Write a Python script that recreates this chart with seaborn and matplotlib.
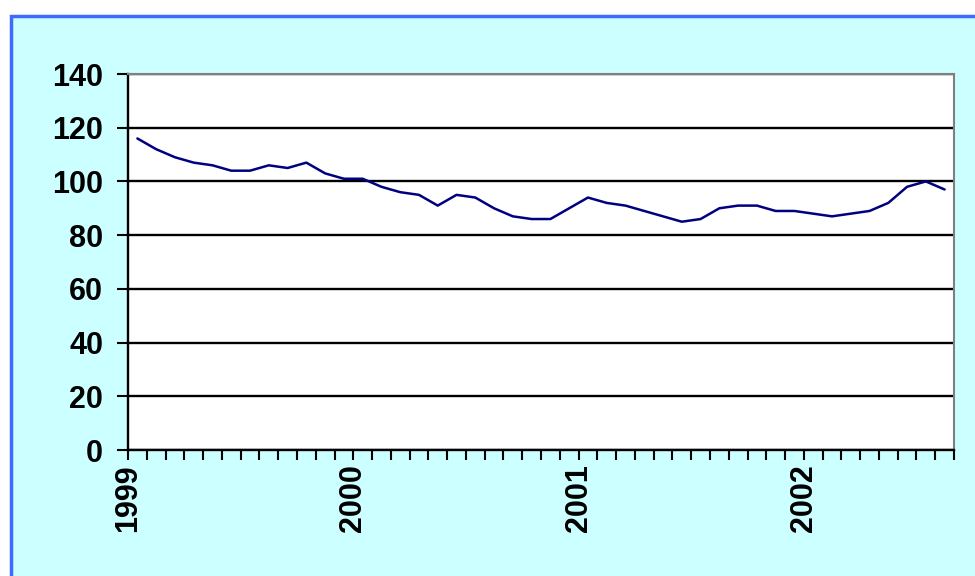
import numpy as np
import pandas as pd
import seaborn as sns
import matplotlib.pyplot as plt
from matplotlib.patches import Rectangle

sns.set_theme(style='white')
plt.rcParams['font.family'] = ['Liberation Sans', 'DejaVu Sans']
plt.rcParams['text.color'] = 'black'
plt.rcParams['xtick.color'] = 'black'
plt.rcParams['ytick.color'] = 'black'

# Monthly index values, Jan 1999 - Aug 2002
values = [116, 112, 109, 107, 106, 104, 104, 106, 105, 107, 103, 101,
          101, 98, 96, 95, 91, 95, 94, 90, 87, 86, 86, 90,
          94, 92, 91, 89, 87, 85, 86, 90, 91, 91, 89, 89,
          88, 87, 88, 89, 92, 98, 100, 97]
months = pd.date_range('1999-01-01', periods=len(values), freq='MS')
year_labels = ['1999', '2000', '2001', '2002']
y_ticks = [0, 20, 40, 60, 80, 100, 120, 140]

df = pd.DataFrame({'month': months, 'value': values})
# category axis: each month occupies one slot, points in the middle
df['pos'] = np.arange(len(df)) + 0.5

fig = plt.figure(figsize=(9.75, 5.76), dpi=100)
fig.patch.set_facecolor('white')

# cyan chart area with blue frame (cropped at right/bottom)
W, H = 975, 576
bg = Rectangle((10.5 / W, -0.05), 1.1, 1 - 15.5 / H + 0.05,
               transform=fig.transFigure, facecolor='#CCFFFF',
               edgecolor='#3D6BFF', linewidth=2.5, zorder=0)
fig.add_artist(bg)

ax = fig.add_axes([128 / W, (H - 450) / H, (954 - 128) / W, (450 - 74) / H])
ax.set_facecolor('white')

sns.lineplot(data=df, x='pos', y='value', color='#000080', linewidth=1.8, ax=ax)

ax.set_xlim(0, len(values))
ax.set_ylim(0, 140)
ax.set_yticks(y_ticks)
ax.set_yticklabels([str(v) for v in y_ticks], fontsize=22, fontweight='bold',
                   color='black')

ax.set_xticks(np.arange(0, len(values) + 1), minor=True)
year_pos = [i for i, m in enumerate(months) if m.month == 1]
ax.set_xticks(year_pos)
ax.set_xticklabels(year_labels, rotation=90, fontsize=22, fontweight='bold',
                   color='black')

ax.yaxis.grid(True, color='black', linewidth=1.7)
ax.set_axisbelow(True)

ax.tick_params(axis='y', which='major', direction='out', length=8, width=1.5,
               color='black', pad=10, left=True)
ax.tick_params(axis='x', which='both', direction='out', length=7, width=1.5,
               color='black', pad=3, bottom=True)

for side in ['left', 'bottom']:
    ax.spines[side].set_color('black')
    ax.spines[side].set_linewidth(1.7)
for side in ['top', 'right']:
    ax.spines[side].set_color('#808080')
    ax.spines[side].set_linewidth(1.5)

ax.set_xlabel('')
ax.set_ylabel('')

fig.savefig('out.png', dpi=100, facecolor=fig.get_facecolor())
